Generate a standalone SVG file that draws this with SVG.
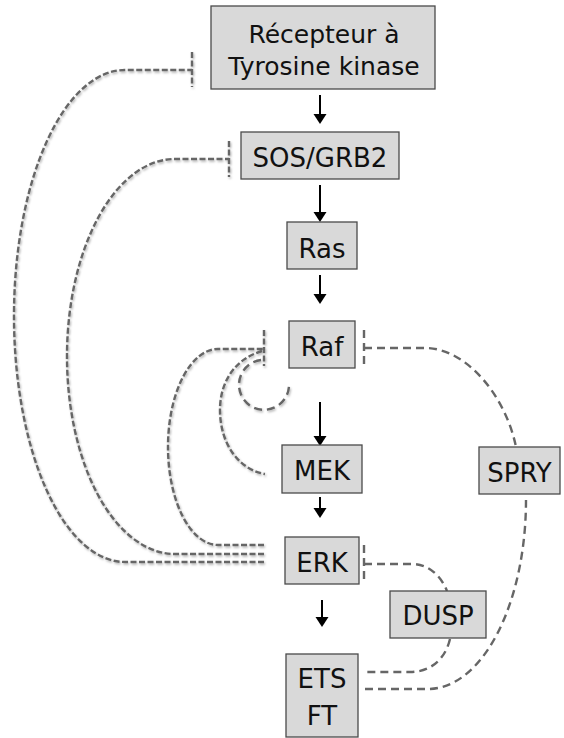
<svg xmlns="http://www.w3.org/2000/svg" width="564" height="738" viewBox="0 0 564 738">
<defs>
<style>
.box{fill:#d9d9d9;stroke:#4a4a4a;stroke-width:1.3}
.lbl{font-family:"DejaVu Sans","Liberation Sans",sans-serif;font-size:26px;fill:#111;text-anchor:middle}
.top{font-size:25px}
.arr{stroke:#000;stroke-width:2;fill:none}
.inh{stroke:#666;stroke-width:2.4;fill:none;stroke-dasharray:6 2.5}
.inh2{stroke:#666;stroke-width:2.4;fill:none;stroke-dasharray:8 5}
.sh{filter:url(#shadow)}
</style>
<marker id="ah" markerUnits="userSpaceOnUse" markerWidth="11" markerHeight="14" refX="0" refY="6.5" orient="auto" overflow="visible">
<path d="M0,0 L10,6.5 L0,13 z" fill="#000"/>
</marker>
<filter id="shadow" x="-20%" y="-20%" width="140%" height="140%">
<feDropShadow dx="1" dy="1.5" stdDeviation="1" flood-color="#000" flood-opacity="0.3"/>
</filter>
</defs>
<g id="connectors">
<line class="arr" x1="320" y1="95" x2="320" y2="114" marker-end="url(#ah)"/>
<line class="arr" x1="320" y1="185" x2="320" y2="212" marker-end="url(#ah)"/>
<line class="arr" x1="320" y1="275" x2="320" y2="294" marker-end="url(#ah)"/>
<line class="arr" x1="320" y1="402" x2="320" y2="436" marker-end="url(#ah)"/>
<line class="arr" x1="320" y1="497" x2="320" y2="508" marker-end="url(#ah)"/>
<line class="arr" x1="322" y1="600" x2="322" y2="617" marker-end="url(#ah)"/>
<g class="sh">
<path class="inh" d="M264 562 H125 A111 246 0 0 1 125 70 H192"/>
<line class="inh" x1="192" y1="52" x2="192" y2="87"/>
<path class="inh" d="M264 554 H175 A108 197.5 0 0 1 175 159 H229"/>
<line class="inh" x1="229" y1="141" x2="229" y2="177"/>
<path class="inh" d="M264 545 H218 A50 98 0 0 1 218 349 H264"/>
<line class="inh" x1="264" y1="330" x2="264" y2="366"/>
<path class="inh" d="M262 351 C232 360 220 385 220 410 C220 445 240 470 265 474"/>
<path class="inh2" d="M261 360 A25 25 0 1 0 289 386"/>
</g>
<path class="inh2" d="M364 348 H425 C467 348 506 397 516 447"/>
<line class="inh2" x1="364" y1="330" x2="364" y2="366"/>
<path class="inh2" d="M365 689 H428 A98 189 0 0 0 526 500"/>
<path class="inh2" d="M364 564 H412 C430 564 442 578 447 591"/>
<line class="inh2" x1="364" y1="545" x2="364" y2="582"/>
<path class="inh2" d="M450 639 C445 660 430 672 410 672 H365"/>
</g>
<g id="node-rtk">
<rect class="box" x="211" y="6" width="224" height="83"/>
<text class="lbl top" x="324" y="43">Récepteur à</text>
<text class="lbl top" x="324" y="75">Tyrosine kinase</text>
</g>
<g id="node-sos">
<rect class="box" x="241" y="132" width="158" height="47"/>
<text class="lbl" x="320" y="167">SOS/GRB2</text>
</g>
<g id="node-ras">
<rect class="box" x="287" y="222" width="70" height="47"/>
<text class="lbl" x="322" y="258">Ras</text>
</g>
<g id="node-raf">
<rect class="box" x="289" y="321" width="66" height="47"/>
<text class="lbl" x="322" y="356">Raf</text>
</g>
<g id="node-mek">
<rect class="box" x="282" y="445" width="80" height="48"/>
<text class="lbl" x="322" y="480">MEK</text>
</g>
<g id="node-erk">
<rect class="box" x="285" y="537" width="74" height="47"/>
<text class="lbl" x="322" y="572">ERK</text>
</g>
<g id="node-dusp">
<rect class="box" x="390" y="591" width="96" height="47"/>
<text class="lbl" x="438" y="625">DUSP</text>
</g>
<g id="node-ets">
<rect class="box" x="286" y="654" width="72" height="83"/>
<text class="lbl" x="322" y="688">ETS</text>
<text class="lbl" x="322" y="725">FT</text>
</g>
<g id="node-spry">
<rect class="box" x="479" y="447" width="81" height="47"/>
<text class="lbl" x="519.5" y="482">SPRY</text>
</g>
</svg>
